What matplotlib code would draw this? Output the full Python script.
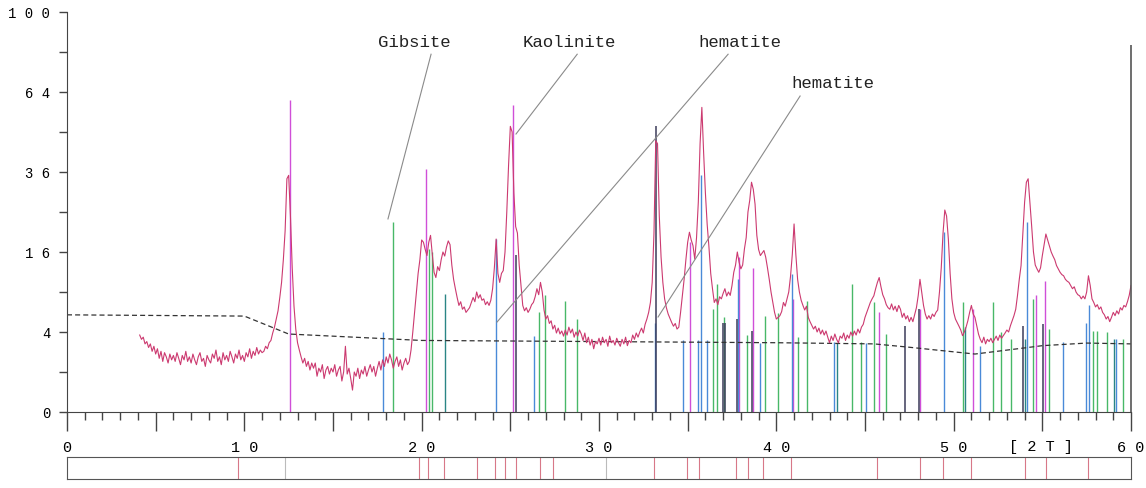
import numpy as np
import matplotlib
matplotlib.use("Agg")
import matplotlib.pyplot as plt
from matplotlib.ticker import FixedLocator, NullFormatter

plt.rcParams['font.family'] = ['Liberation Mono', 'DejaVu Sans Mono']

# measured pattern, 2theta step 0.1 from 4.1 to 60.0 (counts, sqrt scale on plot)
two_theta = np.round(np.arange(41, 601) / 10, 1)
counts = np.array([
    3.7, 3.3, 3.5, 2.9, 3.1, 2.6, 2.9, 2.3, 2.7, 2.1,   # 4
    2.5, 1.8, 2.3, 1.6, 2.2, 1.9, 1.5, 2.1, 1.7, 2.0,   # 5
    1.6, 2.2, 1.8, 1.4, 2.0, 1.7, 2.3, 1.6, 1.9, 1.5,   # 6
    2.1, 1.7, 1.4, 1.9, 2.2, 1.6, 1.8, 1.3, 2.0, 1.7,   # 7
    1.5, 2.1, 1.8, 2.4, 1.6, 1.9, 1.4, 2.2, 1.7, 2.0,   # 8
    1.6, 2.3, 1.9, 1.5, 2.1, 1.8, 2.4, 1.7, 2.0, 1.6,   # 9
    2.2, 1.9, 2.5, 1.8, 2.3, 2.0, 2.6, 2.1, 2.4, 2.2,   # 10
    2.3, 2.7, 2.5, 3.0, 3.2, 3.9, 4.5, 5.4, 6.4, 8.2,   # 11
    10.5, 14.5, 20.5, 34.0, 35.0, 24.0, 13.0, 7.0, 4.3, 3.0,   # 12
    2.4, 1.9, 1.5, 1.8, 1.3, 1.6, 1.1, 1.5, 1.2, 1.5,   # 13
    0.8, 1.2, 1.0, 1.4, 0.7, 1.1, 1.3, 0.9, 1.2, 1.0,   # 14
    1.4, 0.8, 1.1, 1.3, 0.6, 1.0, 2.7, 0.9, 1.2, 0.7,   # 15
    0.3, 1.0, 0.8, 1.2, 0.7, 1.1, 0.9, 1.3, 0.8, 1.1,   # 16
    1.4, 1.0, 1.3, 0.8, 1.2, 1.6, 1.1, 1.7, 1.3, 1.9,   # 17
    1.5, 2.1, 1.7, 1.2, 1.6, 1.9, 1.3, 1.7, 1.1, 1.5,   # 18
    1.8, 1.4, 1.6, 2.4, 4.0, 6.2, 9.0, 12.0, 14.5, 18.5,   # 19
    18.0, 16.5, 15.3, 18.0, 19.5, 15.5, 12.2, 11.3, 13.2, 12.5,   # 20
    14.5, 16.0, 15.2, 17.0, 18.3, 17.5, 13.5, 11.0, 9.5, 8.2,   # 21
    7.1, 7.6, 6.6, 6.9, 6.2, 6.5, 6.8, 7.5, 8.2, 7.6,   # 22
    9.0, 8.1, 8.6, 7.8, 8.0, 7.2, 7.6, 7.1, 7.8, 9.5,   # 23
    13.0, 18.7, 12.0, 10.5, 12.0, 12.5, 16.0, 25.0, 38.0, 51.0,   # 24
    49.0, 30.0, 21.5, 20.0, 13.5, 10.0, 7.1, 6.4, 6.8, 6.2,   # 25
    6.6, 7.2, 7.5, 8.3, 9.5, 8.6, 10.5, 9.0, 6.5, 5.4,   # 26
    5.8, 4.9, 5.2, 4.3, 4.7, 3.9, 4.4, 3.8, 4.1, 3.6,   # 27
    4.2, 3.7, 4.5, 3.9, 4.3, 3.5, 4.0, 3.6, 4.2, 3.8,   # 28
    3.2, 3.9, 3.0, 3.5, 2.8, 3.3, 2.5, 3.1, 2.9, 3.4,   # 29
    2.8, 3.5, 3.0, 3.3, 2.7, 3.6, 3.0, 3.2, 2.8, 3.4,   # 30
    3.0, 2.7, 3.3, 2.9, 3.5, 2.75, 3.2, 3.0, 3.7, 3.3,   # 31
    3.9, 3.5, 4.0, 4.4, 3.9, 4.8, 5.4, 6.2, 7.5, 10.5,   # 32
    20.0, 46.0, 45.0, 24.0, 15.0, 10.5, 8.0, 6.8, 6.0, 5.5,   # 33
    5.0, 4.6, 4.9, 4.3, 4.5, 6.2, 8.5, 11.0, 14.5, 18.0,   # 34
    20.2, 18.5, 17.3, 14.6, 19.0, 27.5, 45.0, 58.0, 42.0, 30.0,   # 35
    22.0, 17.0, 12.0, 9.5, 7.5, 8.0, 7.2, 8.3, 8.0, 8.8,   # 36
    9.5, 8.4, 9.0, 8.5, 10.0, 12.2, 13.5, 16.0, 14.0, 12.8,   # 37
    13.5, 16.6, 19.0, 25.0, 28.0, 33.0, 31.0, 27.0, 19.5, 16.5,   # 38
    15.3, 15.8, 16.3, 15.0, 13.0, 11.0, 9.0, 7.5, 6.2, 5.4,   # 39
    5.6, 5.8, 6.3, 7.5, 7.0, 8.0, 9.0, 11.5, 15.5, 22.1,   # 40
    15.5, 11.0, 9.0, 7.8, 7.1, 6.5, 7.0, 5.6, 5.1, 4.7,   # 41
    4.3, 4.6, 4.0, 4.4, 3.8, 4.2, 3.7, 4.1, 3.5, 3.0,   # 42
    3.6, 3.2, 3.8, 3.3, 3.0, 3.6, 3.4, 3.9, 3.2, 3.7,   # 43
    3.4, 4.0, 3.6, 4.1, 3.7, 4.3, 3.9, 4.5, 4.8, 5.6,   # 44
    6.2, 6.8, 7.5, 8.0, 8.45, 9.5, 10.5, 11.3, 9.8, 8.6,   # 45
    8.0, 7.2, 6.8, 6.6, 7.3, 6.5, 7.0, 6.3, 7.1, 6.6,   # 46
    5.6, 6.1, 5.4, 5.8, 5.1, 5.6, 5.1, 5.9, 6.8, 8.45,   # 47
    11.0, 9.0, 7.1, 6.0, 5.4, 5.8, 5.4, 6.0, 5.7, 6.2,   # 48
    6.5, 9.0, 13.0, 20.0, 25.5, 24.0, 18.7, 12.0, 8.0, 6.2,   # 49
    5.4, 5.0, 4.6, 4.2, 3.64, 4.0, 4.5, 5.2, 6.2, 7.1,   # 50
    6.0, 5.6, 4.65, 3.8, 3.3, 3.0, 3.5, 2.9, 3.3, 3.1,   # 51
    3.4, 3.0, 3.3, 3.6, 3.2, 3.7, 3.4, 3.64, 3.9, 4.2,   # 52
    4.0, 4.65, 5.2, 5.8, 6.6, 8.5, 11.0, 13.4, 20.0, 27.5,   # 53
    33.0, 34.0, 27.5, 21.5, 16.0, 13.5, 12.8, 12.2, 13.0, 15.3,   # 54
    17.5, 19.8, 18.5, 17.3, 16.0, 15.2, 14.5, 13.4, 12.8, 12.2,   # 55
    11.8, 11.6, 11.0, 10.7, 10.5, 10.0, 9.5, 9.8, 9.0, 8.6,   # 56
    8.45, 8.0, 8.4, 8.0, 9.0, 11.6, 10.0, 8.0, 7.5, 6.9,   # 57
    7.2, 6.6, 6.9, 6.2, 5.9, 5.4, 5.7, 5.1, 5.6, 6.2,   # 58
    5.8, 6.4, 6.0, 6.8, 6.5, 7.1, 6.9, 7.6, 8.5, 10.0,   # 59
])

# background line
bg_x = [0, 10, 12.5, 20, 30, 40, 45.5, 47.3, 51.2, 53.9, 55, 57.5, 60]
bg_y = [5.9, 5.75, 3.8, 3.2, 3.1, 3.0, 2.9, 2.65, 2.1, 2.55, 2.75, 2.97, 2.9]

# reference sticks, grouped by colour
magenta_pos = [12.55, 20.25, 25.13, 35.15, 37.92, 38.7, 40.96, 45.8, 48.12, 51.08, 54.63, 55.16]
magenta_h = [61, 37, 59, 18, 15, 13, 8, 6.2, 6.6, 6.6, 8.6, 10.8]
green_pos = [18.37, 20.42, 20.6, 26.6, 26.96, 28.1, 28.76, 36.45, 36.68, 37.07, 38.37, 39.35,
             40.07, 41.2, 41.72, 44.26, 44.77, 45.48, 46.2, 50.55, 52.21, 52.68, 53.24,
             54.46, 55.4, 57.88, 58.1, 58.63, 59.54]
green_h = [22.6, 16.6, 16, 6.25, 8.6, 7.7, 5.4, 6.6, 10.3, 5.6, 3.7, 5.8,
           6.1, 3.5, 7.7, 10.2, 3.1, 7.5, 3.8, 7.5, 7.6, 4, 3.3,
           8, 4.3, 4.1, 4.1, 4, 3.3]
blue_pos = [17.8, 24.2, 26.35, 33.15, 34.72, 35.57, 35.74, 36.07, 37.84, 39.09, 40.9, 43.28,
            45.05, 49.48, 51.5, 54.13, 56.15, 57.47, 57.64, 59.17]
blue_h = [4.0, 18.7, 3.6, 5.0, 3.2, 3.2, 35, 3.2, 11, 3.0, 11.9, 3.1,
          3.0, 20.2, 2.75, 22.5, 3.1, 5.0, 7.2, 3.3]
teal_pos = [21.3, 43.4, 50.62, 54.0, 59.05]
teal_h = [8.7, 3.0, 4.5, 3.3, 3.3]
dark_pos = [25.3, 33.22, 36.98, 37.1, 37.77, 38.6, 47.26, 48.05, 53.93, 55.06]
dark_h = [15.5, 51, 5.0, 5.0, 5.4, 4.1, 4.65, 6.6, 4.65, 4.84]

# phase labels: text position, leader start, leader end
labels = ["Gibsite", "Kaolinite", "hematite", "hematite"]
label_xy = [(19.6, 86), (28.3, 86), (37.95, 86), (43.2, 68)]
leader_from = [(20.53, 80), (28.77, 80), (37.28, 80), (41.34, 62.4)]
leader_to = [(18.1, 23.3), (25.32, 48.3), (24.25, 5.06), (33.33, 5.64)]

# peak markers in the strip below
strip_pos = [9.67, 12.32, 19.87, 20.36, 21.25, 23.11, 24.13, 24.7, 25.3, 26.67, 27.38, 30.42,
             33.11, 34.97, 35.63, 37.72, 38.41, 39.25, 40.84, 45.66, 48.09, 49.4, 50.95,
             54.03, 55.2, 57.55]
strip_grey = [12.32, 30.42]

W, H = 1146, 489
fig = plt.figure(figsize=(W / 100, H / 100), dpi=100)
ax = fig.add_axes([67 / W, 1 - 413 / H, (1131 - 67) / W, 400 / H])
ax.set_yscale('function', functions=(lambda a: np.sqrt(np.maximum(a, 0)), lambda a: np.square(a)))
ax.set_xlim(0, 60)
ax.set_ylim(0, 100)

ax.vlines(magenta_pos, 0, magenta_h, color='#d04fd8', lw=1.0)
ax.vlines(green_pos, 0, green_h, color='#48b868', lw=1.0)
ax.vlines(blue_pos, 0, blue_h, color='#4a8ad8', lw=1.0)
ax.vlines(teal_pos, 0, teal_h, color='#2a8585', lw=1.0)
ax.vlines(dark_pos, 0, dark_h, color='#3c3c5a', lw=1.1)

ax.plot(bg_x, bg_y, color='#333333', lw=0.9, ls=(0, (4, 2.5)))
ax.plot(two_theta, counts, color='#cc3a70', lw=0.8)

ax.vlines(60, 0, 84, color='#555555', lw=1.2, clip_on=False)

for txt, (tx, ty), (x0, y0), (x1, y1) in zip(labels, label_xy, leader_from, leader_to):
    ax.text(tx, ty, txt, ha='center', va='center', fontsize=12.5, color='#222222')
    ax.plot([x0, x1], [y0, y1], color='#8a8a8a', lw=0.8, clip_on=False)

for s in ['top', 'right']:
    ax.spines[s].set_visible(False)
ax.spines['left'].set_color('#444444')
ax.spines['bottom'].set_color('#444444')

ax.xaxis.set_major_locator(FixedLocator(list(range(0, 61, 5))))
ax.xaxis.set_minor_locator(FixedLocator(list(range(0, 61))))
ax.set_xticklabels(['0', '', '1 0', '', '2 0', '', '3 0', '', '4 0', '', '5 0', '', '6 0'])
ax.xaxis.set_minor_formatter(NullFormatter())
ax.tick_params(axis='x', which='major', direction='out', length=14, width=1, color='#444444',
               labelsize=11, pad=6)
ax.tick_params(axis='x', which='minor', direction='out', length=6, width=1, color='#444444')

ax.yaxis.set_major_locator(FixedLocator([0, 4, 16, 36, 64, 100]))
ax.yaxis.set_minor_locator(FixedLocator([1, 9, 25, 49, 81]))
ax.set_yticklabels(['0', '4', '1 6', '3 6', '6 4', '1 0 0'])
ax.yaxis.set_minor_formatter(NullFormatter())
ax.tick_params(axis='y', which='both', direction='out', length=6, width=1, color='#444444',
               labelsize=10, pad=6)

# axis unit label sits on the tick-label line
ax.text(54.9, -34 / 400, '[ 2 T ]', transform=ax.get_xaxis_transform(), ha='center',
        va='center', fontsize=11)

strip = fig.add_axes([67 / W, 1 - 480 / H, (1131 - 67) / W, 22 / H])
strip.set_xlim(0, 60)
strip.set_ylim(0, 1)
strip.set_xticks([])
strip.set_yticks([])
for s in strip.spines.values():
    s.set_color('#555555')
strip.vlines([p for p in strip_pos if p not in strip_grey], 0, 1, color='#d87888', lw=0.8)
strip.vlines(strip_grey, 0, 1, color='#bbbbbb', lw=0.8)

fig.savefig('out.png', dpi=100)
